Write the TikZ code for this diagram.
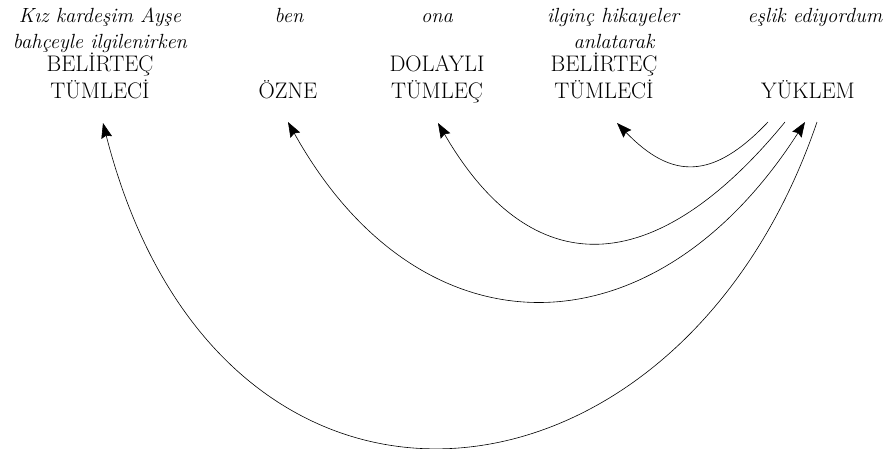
\documentclass[tikz,border=0pt]{standalone}
\usepackage{fontspec}
\usetikzlibrary{arrows.meta,calc}
\begin{document}
\begin{tikzpicture}[x=1pt,y=-1pt,
  word/.style={anchor=base,inner sep=0pt,font=\fontsize{20.5}{24}\selectfont\itshape},
  role/.style={anchor=base,inner sep=0pt,font=\fontsize{22.5}{26}\selectfont},
  link/.style={line width=0.6pt,-{Stealth[length=15pt,width=11pt,inset=2pt]}},
  twoway/.style={line width=0.6pt,{Stealth[length=15pt,width=11pt,inset=2pt]}-{Stealth[length=15pt,width=11pt,inset=2pt]}}]
\useasboundingbox (0,0) rectangle (884,448);
% sentence words
\foreach \x/\n/\t in {100/w1/Kız kardeşim Ayşe,289/w2/ben,437/w3/ona,613/w4/ilginç hikayeler,815/w5/eşlik ediyordum}
  \node[word] (\n) at (\x,22) {\t};
\node[word] (w1b) at (100,48) {bahçeyle ilgilenirken};
\node[word] (w4b) at (614,48) {anlatarak};
% grammatical roles
\foreach \x/\n/\t in {100/bt1/BELİRTEÇ,437/dl/DOLAYLI,604/bt2/BELİRTEÇ}
  \node[role] (\n) at (\x,71) {\t};
\node[role] (tml1) at (100,98) {TÜMLECİ};
\node[role] (ozne) at (288,98) {ÖZNE};
\node[role] (tmlc) at (437,98) {TÜMLEÇ};
\node[role] (tml2) at (604,98) {TÜMLECİ};
\node[role] (ykl) at (808,98) {YÜKLEM};
% links from the predicate
\draw[link] ($(ykl.base)+(-40,24)$) .. controls +(-55,58) and +(55,57) .. ($(tml2.base)+(13,25)$);
\draw[link] ($(ykl.base)+(-23,24)$) .. controls +(-132,161) and +(93,160) .. ($(tmlc.base)+(1,25)$);
\draw[twoway] ($(ykl.base)+(-3,24)$) .. controls +(-152,237) and +(132,237) .. ($(ozne.base)+(0,24)$);
\draw[link] ($(ykl.base)+(9,24)$) .. controls +(-139,408) and +(117,457) .. ($(tml1.base)+(3,25)$);
\end{tikzpicture}
\end{document}
